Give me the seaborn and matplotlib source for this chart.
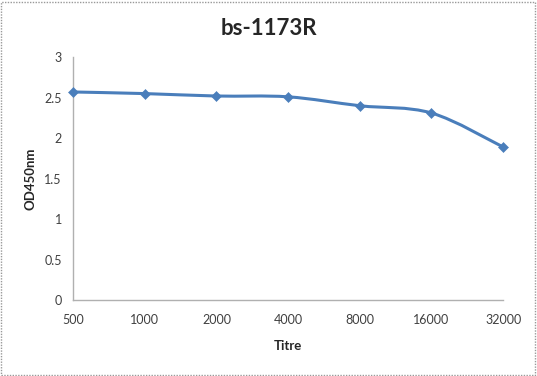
import seaborn as sns
import pandas as pd
import matplotlib.pyplot as plt
import numpy as np
from matplotlib.path import Path
from matplotlib.patches import PathPatch, Rectangle

titres = ["500", "1000", "2000", "4000", "8000", "16000", "32000"]
od450 = [2.57, 2.55, 2.52, 2.51, 2.40, 2.31, 1.89]

data = pd.DataFrame({"Titre": titres, "OD450nm": od450})
data["pos"] = range(len(data))

sns.set_theme(style="white")
plt.rcParams['font.family'] = ['Lato', 'DejaVu Sans']
blue = "#4a7ebb"

fig = plt.figure(figsize=(5.37, 3.76), dpi=100)
ax = fig.add_axes([0.136, 0.202, 0.801, 0.646])

# smoothed line like the spreadsheet chart (bezier through the points)
x = data["pos"].to_numpy(dtype=float)
y = data["OD450nm"].to_numpy()
verts = [(x[0], y[0])]
codes = [Path.MOVETO]
for i in range(len(x) - 1):
    xp, yp = (x[i - 1], y[i - 1]) if i > 0 else (x[i], y[i])
    xn, yn = (x[i + 2], y[i + 2]) if i + 2 < len(x) else (x[i + 1], y[i + 1])
    c1 = (x[i] + (x[i + 1] - xp) / 6, y[i] + (y[i + 1] - yp) / 6)
    c2 = (x[i + 1] - (xn - x[i]) / 6, y[i + 1] - (yn - y[i]) / 6)
    verts += [c1, c2, (x[i + 1], y[i + 1])]
    codes += [Path.CURVE4] * 3
ax.add_patch(PathPatch(Path(verts, codes), fill=False, edgecolor=blue, lw=2.2))

sns.scatterplot(data=data, x="pos", y="OD450nm", marker="D", s=26, color=blue,
                edgecolor=blue, ax=ax, zorder=3, clip_on=False)

ax.set_xlim(0, 6)
ax.set_ylim(0, 3)
ax.set_yticks(np.arange(0, 3.01, 0.5))
ax.set_yticklabels(["0", "0.5", "1", "1.5", "2", "2.5", "3"])
ax.set_xticks(data["pos"])
ax.set_xticklabels(titres)
ax.tick_params(axis="both", length=0, labelsize=9, colors="#404040")
ax.tick_params(axis="x", pad=10)
ax.tick_params(axis="y", pad=8)
for s in ["top", "right"]:
    ax.spines[s].set_visible(False)
for s in ["left", "bottom"]:
    ax.spines[s].set_color("#b0b0b0")
    ax.spines[s].set_linewidth(1)
ax.set_xlabel("Titre", fontsize=9.5, fontweight="bold", labelpad=10)
ax.set_ylabel("OD450nm", fontsize=9.5, fontweight="bold", labelpad=6)
fig.text(0.5, 0.925, "bs-1173R", ha="center", va="center", fontsize=16, fontweight="bold")

fig.patches.append(Rectangle((0.002, 0.003), 0.994, 0.992, transform=fig.transFigure,
                             fill=False, edgecolor="#999999", linestyle=(0, (1, 1)), lw=1))

plt.savefig("out.png", dpi=100)
